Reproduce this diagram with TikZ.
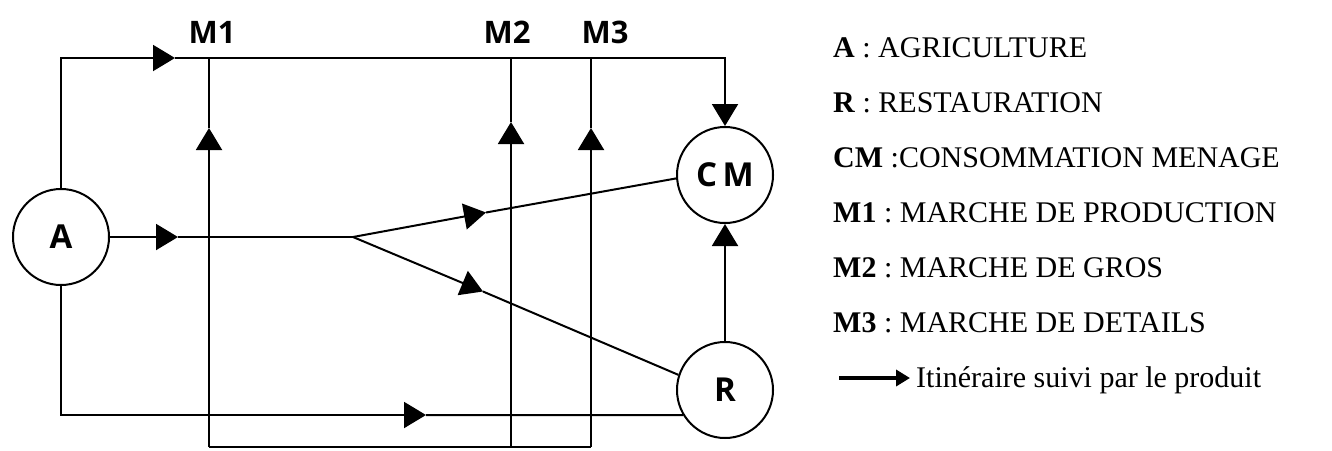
\documentclass[tikz,border=0pt]{standalone}
\usepackage{fontspec}
\setmainfont{Liberation Serif}
\newfontfamily\lblfont{Open Sans}
\usetikzlibrary{arrows.meta}
\frenchspacing
\tikzset{
  ln/.style={line width=2pt, line join=miter},
  arr/.style={ln, -{Triangle[length=22pt,width=26pt]}},
  circ/.style={circle, draw, line width=2pt, minimum size=96pt, inner sep=0pt, font=\lblfont\bfseries\fontsize{33}{36}\selectfont},
  mlab/.style={font=\lblfont\bfseries\fontsize{31}{34}\selectfont, inner sep=0pt},
  legend/.style={font=\fontsize{30}{34}\selectfont, inner sep=0pt, anchor=base west},
  legarr/.style={line width=4.5pt, -{Triangle[length=14pt,width=16pt]}}
}
\begin{document}
\begin{tikzpicture}[x=1pt,y=-1pt]
\useasboundingbox (0,0) rectangle (1332,450);
% main nodes
\node[circ] (A) at (61,237) {A};
\node[circ] (CM) at (725,175) {C\,M};
\node[circ] (R) at (725,390) {R};
% labels
\node[mlab] (m1) at (212,32) {M1};
\node[mlab] (m2) at (507,32) {M2};
\node[mlab] (m3) at (605,32) {M3};
% coordinates
\coordinate (tl) at (61,58);
\coordinate (ta) at (175,58);
\coordinate (tr) at (725,58);
\coordinate (ma) at (178,237);
\coordinate (br) at (353,237);
\coordinate (ua) at (486,212.5);
\coordinate (da) at (483,291.5);
\coordinate (bl) at (61,415);
\coordinate (ba) at (426,415);
\coordinate (x1b) at (209,447);
\coordinate (x1a) at (209,128);
\coordinate (x1t) at (209,58);
\coordinate (x2b) at (511,447);
\coordinate (x2a) at (511,122);
\coordinate (x2t) at (511,58);
\coordinate (x3b) at (591,447);
\coordinate (x3a) at (591,128);
\coordinate (x3t) at (591,58);
% top route
\draw[arr] (A.north) -- (tl) -- (ta);
\draw[arr] (ta) -- (tr) -- (CM.north);
% middle route
\draw[arr] (A.east) -- (ma);
\draw[ln] (ma) -- (br);
\draw[arr] (br) -- (ua);
\draw[ln] (ua) -- (CM.184);
\draw[arr] (br) -- (da);
\draw[ln] (da) -- (R.162);
% bottom route
\draw[arr] (A.south) -- (bl) -- (ba);
\draw[ln] (ba) -- (R.211);
% R to CM
\draw[arr] (R.north) -- (CM.south);
% market verticals
\draw[ln] (x1b) -- (x3b);
\draw[arr] (x1b) -- (x1a);
\draw[ln] (x1a) -- (x1t);
\draw[arr] (x2b) -- (x2a);
\draw[ln] (x2a) -- (x2t);
\draw[arr] (x3b) -- (x3a);
\draw[ln] (x3a) -- (x3t);
% legend
\node[legend] (l1) at (833,57) {\textbf{A} : AGRICULTURE};
\node[legend] (l2) at (833,112) {\textbf{R} : RESTAURATION};
\node[legend] (l3) at (833,167) {\textbf{CM} :CONSOMMATION MENAGE};
\node[legend] (l4) at (833,222) {\textbf{M1} : MARCHE DE PRODUCTION};
\node[legend] (l5) at (833,277) {\textbf{M2} : MARCHE DE GROS};
\node[legend] (l6) at (833,332) {\textbf{M3} : MARCHE DE DETAILS};
\coordinate (la1) at (839,378);
\coordinate (la2) at (910,378);
\draw[legarr] (la1) -- (la2);
\node[legend] (l7) at (916,387) {Itinéraire suivi par le produit};
\end{tikzpicture}
\end{document}
